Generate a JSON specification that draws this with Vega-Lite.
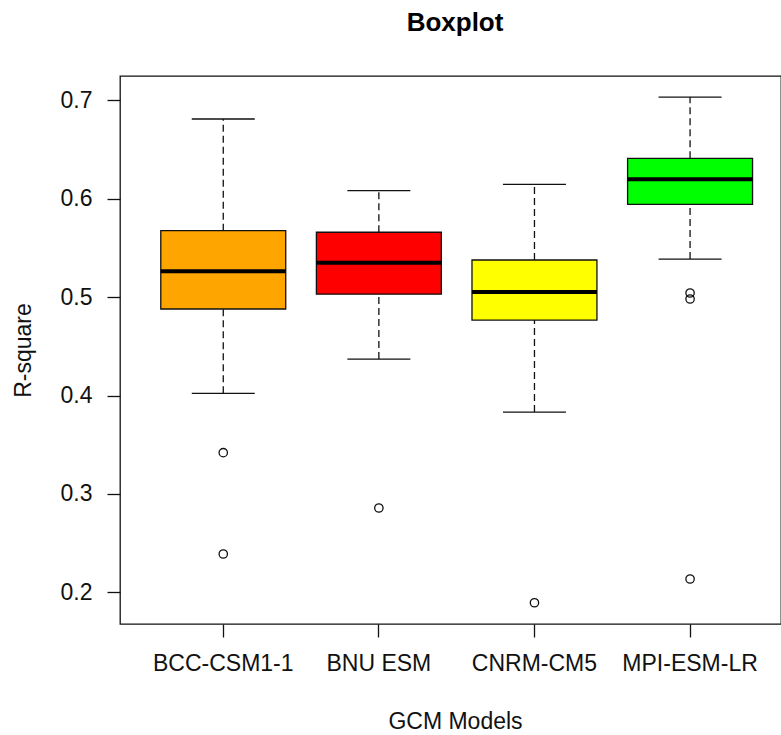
{
  "$schema": "https://vega.github.io/schema/vega-lite/v6.json",
  "autosize": "none",
  "width": 661,
  "height": 548,
  "padding": {"left": 120, "top": 76, "right": 0, "bottom": 111},
  "background": "white",
  "config": {
    "font": "Liberation Sans",
    "view": {"stroke": "#111", "strokeWidth": 1.3},
    "axis": {"grid": false, "domain": false, "tickColor": "#111", "tickWidth": 1.3, "tickSize": 13, "labelFontSize": 23, "labelColor": "#111", "labelFont": "Liberation Sans", "titleFont": "Liberation Sans", "titleFontSize": 23, "titleFontWeight": "normal", "titleColor": "#111", "labelPadding": 15}
  },
  "title": {"text": "Boxplot", "fontSize": 26, "fontWeight": "bold", "font": "Liberation Sans", "color": "#000", "anchor": "middle", "dx": 4.5, "baseline": "bottom", "offset": 14},
  "datasets": {
    "boxes": [
      {"model": "BCC-CSM1-1", "lower": 0.4022, "q1": 0.4879, "median": 0.5262, "q3": 0.5675, "upper": 0.681},
      {"model": "BNU ESM", "lower": 0.437, "q1": 0.503, "median": 0.535, "q3": 0.5659, "upper": 0.6082},
      {"model": "CNRM-CM5", "lower": 0.3832, "q1": 0.4767, "median": 0.5052, "q3": 0.5377, "upper": 0.6146},
      {"model": "MPI-ESM-LR", "lower": 0.5387, "q1": 0.5943, "median": 0.6197, "q3": 0.641, "upper": 0.7033}
    ],
    "outliers": [
      {"model": "BCC-CSM1-1", "value": 0.3419},
      {"model": "BCC-CSM1-1", "value": 0.2389},
      {"model": "BNU ESM", "value": 0.2857},
      {"model": "CNRM-CM5", "value": 0.1894},
      {"model": "MPI-ESM-LR", "value": 0.5042},
      {"model": "MPI-ESM-LR", "value": 0.4981},
      {"model": "MPI-ESM-LR", "value": 0.2135}
    ]
  },
  "encoding": {
    "x": {
      "field": "model", "type": "nominal", "sort": null,
      "scale": {"type": "band", "domain": ["BCC-CSM1-1", "BNU ESM", "CNRM-CM5", "MPI-ESM-LR"], "paddingInner": 0.197, "paddingOuter": 0.2225, "align": 0.589},
      "axis": {"title": "GCM Models", "labelAngle": 0, "titlePadding": 35, "titleAnchor": "middle", "titleX": 335}
    }
  },
  "layer": [
    {
      "data": {"name": "boxes"},
      "mark": {"type": "rule", "strokeDash": [7, 4], "color": "#111", "strokeWidth": 1.3},
      "encoding": {
        "y": {"field": "lower", "type": "quantitative", "scale": {"domain": [0.1678, 0.7247], "nice": false, "zero": false},
          "axis": {"title": "R-square", "values": [0.2, 0.3, 0.4, 0.5, 0.6, 0.7], "format": ".1f", "titlePadding": 25}},
        "y2": {"field": "q1"}
      }
    },
    {
      "data": {"name": "boxes"},
      "mark": {"type": "rule", "strokeDash": [7, 4], "color": "#111", "strokeWidth": 1.3},
      "encoding": {
        "y": {"field": "q3", "type": "quantitative"},
        "y2": {"field": "upper"}
      }
    },
    {
      "data": {"name": "boxes"},
      "mark": {"type": "tick", "color": "#111", "size": 63, "thickness": 1.3, "opacity": 1},
      "encoding": {"y": {"field": "lower", "type": "quantitative"}}
    },
    {
      "data": {"name": "boxes"},
      "mark": {"type": "tick", "color": "#111", "size": 63, "thickness": 1.3, "opacity": 1},
      "encoding": {"y": {"field": "upper", "type": "quantitative"}}
    },
    {
      "data": {"name": "boxes"},
      "mark": {"type": "bar", "stroke": "#111", "strokeWidth": 1.3, "opacity": 1},
      "encoding": {
        "y": {"field": "q1", "type": "quantitative"},
        "y2": {"field": "q3"},
        "fill": {"field": "model", "type": "nominal", "scale": {"domain": ["BCC-CSM1-1", "BNU ESM", "CNRM-CM5", "MPI-ESM-LR"], "range": ["#FFA500", "#FF0000", "#FFFF00", "#00FF00"]}, "legend": null}
      }
    },
    {
      "data": {"name": "boxes"},
      "mark": {"type": "tick", "color": "#000", "size": 125, "thickness": 4, "opacity": 1},
      "encoding": {"y": {"field": "median", "type": "quantitative"}}
    },
    {
      "data": {"name": "outliers"},
      "mark": {"type": "point", "shape": "circle", "filled": false, "stroke": "#111", "strokeWidth": 1.3, "size": 70, "opacity": 1},
      "encoding": {"y": {"field": "value", "type": "quantitative"}}
    }
  ]
}
